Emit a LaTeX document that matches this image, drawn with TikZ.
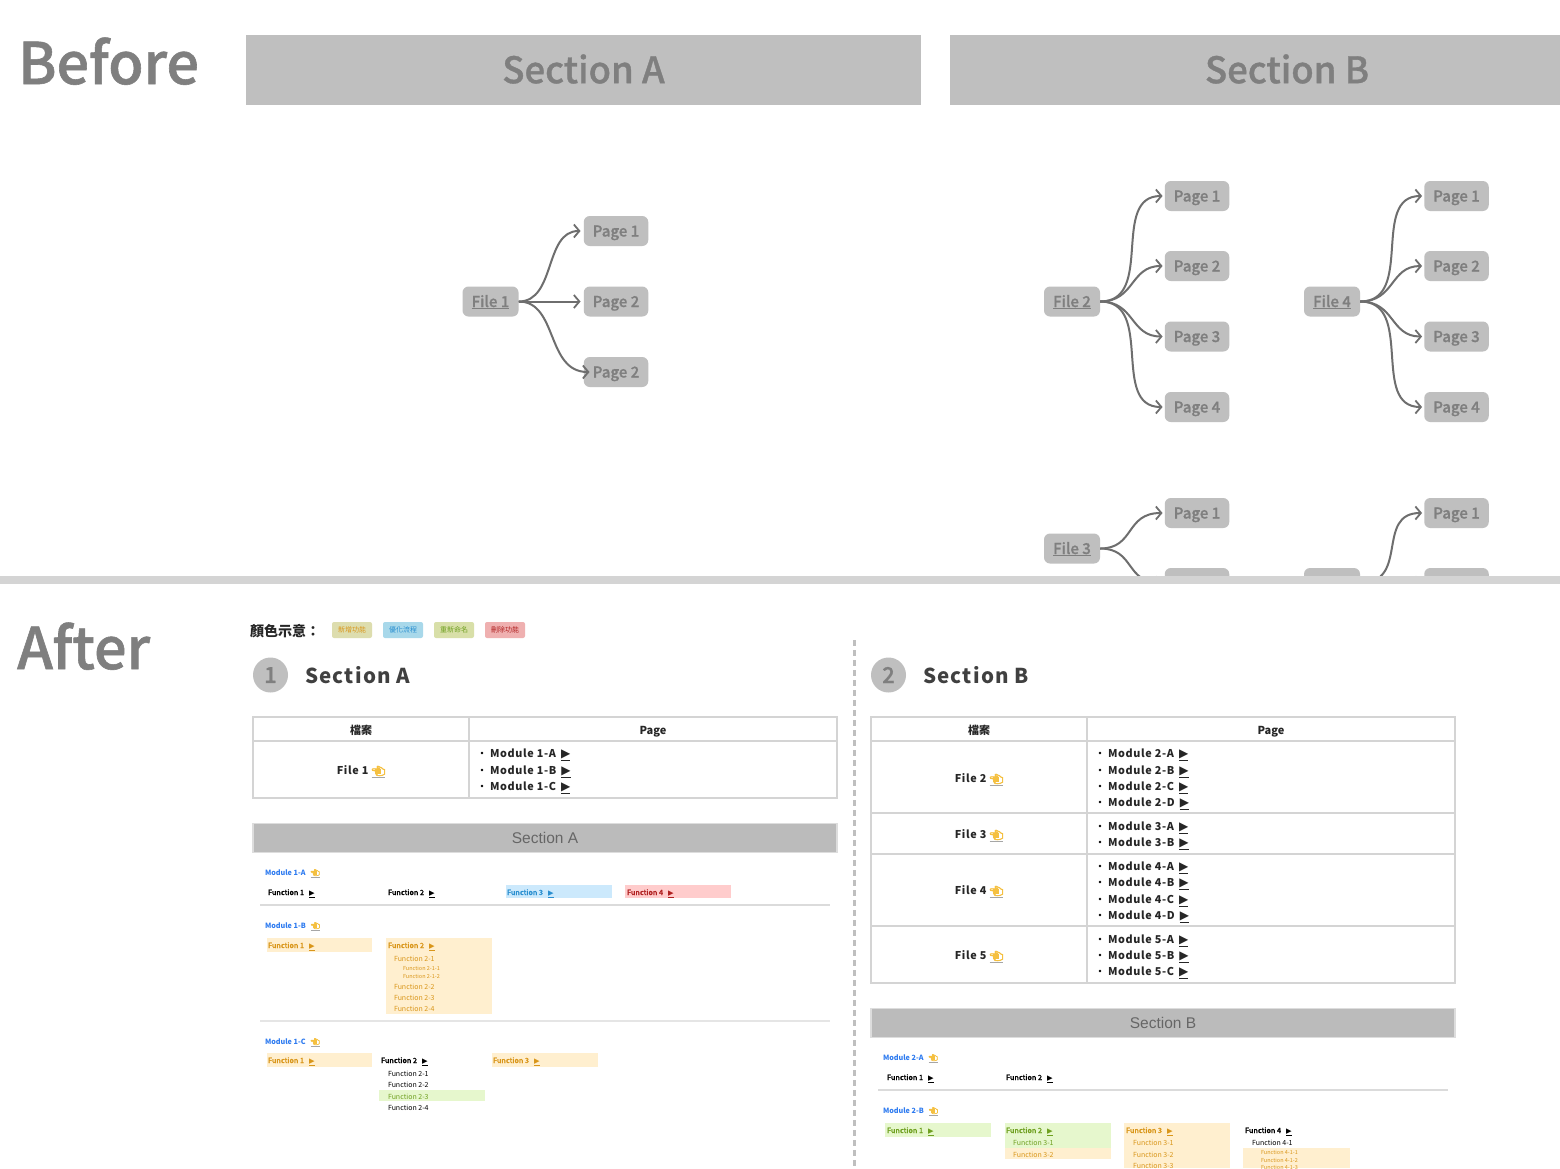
\documentclass[tikz,border=0pt]{standalone}
\usepackage{fontspec}
\usetikzlibrary{arrows.meta}
\setmainfont{Noto Sans CJK TC}
\newfontfamily\med[FakeBold=1]{Noto Sans CJK TC Medium}
\newfontfamily\spaced[LetterSpace=6]{Noto Sans CJK TC}
\newfontfamily\dejav{DejaVu Sans}
\newfontfamily\emo[FakeBold=6]{Noto Emoji}
\newfontfamily\lib{Liberation Sans}
\definecolor{bandgrey}{HTML}{BFBFBF}
\definecolor{inkgrey}{HTML}{7F7F7F}
\definecolor{wire}{HTML}{6E6E6E}
\definecolor{rulegrey}{HTML}{D4D4D4}
\definecolor{linkblue}{HTML}{2E7BF0}
\definecolor{hand}{HTML}{F5C040}
\definecolor{orangebg}{HTML}{FFEFCF}
\definecolor{orangetx}{HTML}{D9961A}
\definecolor{greenbg}{HTML}{E6F7CD}
\definecolor{greentx}{HTML}{6FA020}
\definecolor{bluebg}{HTML}{CCE9FC}
\definecolor{bluetx}{HTML}{2A8FD0}
\definecolor{redbg}{HTML}{FFCCCC}
\definecolor{redtx}{HTML}{B02020}
\definecolor{sbandfill}{HTML}{BBBBBB}
\definecolor{sbandline}{HTML}{DDDDDD}
\newcommand{\fsz}[1]{\fontsize{#1}{#1}\selectfont}
\newcommand{\Hd}{\textcolor{black!35}{\underline{\textcolor{hand}{\rlap{\hspace{.35em}\raisebox{.02em}{\rule{.55em}{.55em}}}\emo\char"1F448}}}}
\newcommand{\Ar}{\underline{{\dejav\char"25B6}}}
\newcommand{\Fa}[4][black]{\node[txt,fn,text=#1] (f-#2-#3) at (#2,#3) {#4\hspace{5pt}\Ar};}
\newcommand{\Fb}[4][black]{\node[txt,font=\fsz{7},yshift=1.2pt,text=#1] (f-#2-#3) at (#2,#3) {#4};}
\newcommand{\Fc}[4][black]{\node[txt,yshift=1pt,text=#1,font=\fsz{5.5}] (f-#2-#3) at (#2,#3) {#4};}
\newcommand{\Md}[3]{\node[txt,mods] (m-#1-#2) at (#1,#2) {#3\hspace{5pt}{\fsz{12}\Ar}};}
\newcommand{\Mh}[3]{\node[txt,font=\fsz{7.2}\bfseries,text=linkblue] (h-#1-#2) at (#1,#2) {#3\hspace{5pt}\Hd};}
\newcommand{\Bul}[2]{\fill[black] (#1,#2) circle (1.3);}
\newcommand{\Lb}[1]{\raisebox{-5.5pt}[0pt][0pt]{#1}}
\tikzset{
  txt/.style={anchor=west,inner sep=0pt,outer sep=0pt,yshift=-1.6pt},
  fn/.style={font=\med\fsz{7.2}},
  mods/.style={font=\spaced\fsz{10.8}\bfseries,text=black!85},
  filet/.style={anchor=center,inner sep=0pt,yshift=-1.8pt,font=\spaced\fsz{10.8}\bfseries,text=black!85},
  headt/.style={anchor=center,inner sep=0pt,font=\fsz{11}\bfseries,text=black!85},
  filebox/.style={draw=none,fill=bandgrey,rounded corners=6,minimum width=56,minimum height=30,inner sep=0pt,text=inkgrey,font=\med\fsz{15}},
  pagebox/.style={draw=none,fill=bandgrey,rounded corners=6,minimum width=64.5,minimum height=30,inner sep=0pt,text=inkgrey,font=\med\fsz{15}},
  conn/.style={draw=wire,line width=2,-{Straight Barb[length=5.5,width=13,line width=1.8]}},
  tline/.style={draw=rulegrey,line width=2},
  sepl/.style={draw=black!14,line width=1.5},
  chip/.style={rounded corners=2,minimum width=40,minimum height=16,inner sep=0pt,font=\fsz{7}},
  sband/.style={fill=sbandfill,draw=sbandline,line width=1.5,minimum width=584,minimum height=29,inner sep=0pt,text=black!60,font=\lib\fsz{15.5}},
  bigt/.style={anchor=west,inner sep=0pt,yshift=1.8pt,text=inkgrey,font=\med\fsz{57.5}},
  sect/.style={text=inkgrey,inner sep=0pt,yshift=1pt,font=\med\fsz{36.5}},
  numc/.style={circle,fill=bandgrey,minimum size=35,inner sep=0pt,text=inkgrey,font=\med\fsz{22}},
  hsec/.style={anchor=west,inner sep=0pt,font=\spaced\fsz{20.5}\bfseries,text=black!75}
}
\begin{document}
\begin{tikzpicture}[x=1pt,y=-1pt]
\clip (0,0) rectangle (1560,1168);
\fill[white] (0,0) rectangle (1560,1168);

% ---------- Before ----------
\begin{scope}
\clip (0,0) rectangle (1560,577);
\node[bigt] (before) at (18,63) {Before};
\node[fill=bandgrey,minimum width=675,minimum height=70,inner sep=0pt] (sa) at (583.5,70) {};
\node[sect] (sat) at (583.5,70) {Section A};
\node[fill=bandgrey,minimum width=675,minimum height=70,inner sep=0pt,anchor=west] (sb) at (950,70) {};
\node[sect] (sbt) at (1287,70) {Section B};

\node[filebox] (f1) at (490.5,301.5) {\Lb{\underline{File 1}}};
\node[pagebox] (a1) at (616,231) {\Lb{Page 1}};
\node[pagebox] (a2) at (616,301.5) {\Lb{Page 2}};
\node[pagebox] (a3) at (616,372) {\Lb{Page 2}};
\draw[conn] (f1.east) .. controls (556,301.5) and (544,231) .. ([xshift=-3]a1.west);
\draw[conn] (f1.east) -- ([xshift=-3]a2.west);
\draw[conn] (f1.east) .. controls (558,301.5) and (546,372) .. ([xshift=6]a3.west);

\node[filebox] (f2) at (1072,301.5) {\Lb{\underline{File 2}}};
\node[pagebox] (b1) at (1197,196) {\Lb{Page 1}};
\node[pagebox] (b2) at (1197,266) {\Lb{Page 2}};
\node[pagebox] (b3) at (1197,336.5) {\Lb{Page 3}};
\node[pagebox] (b4) at (1197,407) {\Lb{Page 4}};
\draw[conn] (f2.east) .. controls (1155,301.5) and (1110,196) .. ([xshift=-2]b1.west);
\draw[conn] (f2.east) .. controls (1135,301.5) and (1130,266) .. ([xshift=-2]b2.west);
\draw[conn] (f2.east) .. controls (1135,301.5) and (1130,336.5) .. ([xshift=-2]b3.west);
\draw[conn] (f2.east) .. controls (1155,301.5) and (1110,407) .. ([xshift=-2]b4.west);

\node[filebox] (f4) at (1332,301.5) {\Lb{\underline{File 4}}};
\node[pagebox] (c1) at (1456.5,196) {\Lb{Page 1}};
\node[pagebox] (c2) at (1456.5,266) {\Lb{Page 2}};
\node[pagebox] (c3) at (1456.5,336.5) {\Lb{Page 3}};
\node[pagebox] (c4) at (1456.5,407) {\Lb{Page 4}};
\draw[conn] (f4.east) .. controls (1415,301.5) and (1370,196) .. ([xshift=-2]c1.west);
\draw[conn] (f4.east) .. controls (1395,301.5) and (1390,266) .. ([xshift=-2]c2.west);
\draw[conn] (f4.east) .. controls (1395,301.5) and (1390,336.5) .. ([xshift=-2]c3.west);
\draw[conn] (f4.east) .. controls (1415,301.5) and (1370,407) .. ([xshift=-2]c4.west);

\node[filebox] (f3) at (1072,548.5) {\Lb{\underline{File 3}}};
\node[pagebox] (d1) at (1197,513) {\Lb{Page 1}};
\node[pagebox] (d2) at (1197,583) {};
\draw[conn] (f3.east) .. controls (1135,548.5) and (1125,513) .. ([xshift=-2]d1.west);
\draw[conn] (f3.east) .. controls (1135,548.5) and (1125,583) .. ([xshift=-2]d2.west);

\node[filebox] (f5) at (1332,583) {};
\node[pagebox] (e1) at (1456.5,513) {\Lb{Page 1}};
\node[pagebox] (e2) at (1456.5,583) {};
\draw[conn] (f5.east) .. controls (1410,583) and (1375,513) .. ([xshift=-2]e1.west);
\draw[conn] (f5.east) -- ([xshift=-2]e2.west);
\end{scope}
\fill[black!17] (0,576) rectangle (1560,584);

% ---------- After ----------
\node[bigt] (after) at (17,648) {After};
\node[txt,font=\fsz{14}\bfseries,text=black!85] (legend) at (250,630) {顏色示意：};
\definecolor{chipa}{HTML}{DDDDAE}\definecolor{chipb}{HTML}{A8D8EA}
\definecolor{chipc}{HTML}{D8DFA8}\definecolor{chipd}{HTML}{EFB0B0}
\node[chip,fill=chipa,text=orangetx] (c-new) at (352,630) {新增功能};
\node[chip,fill=chipb,text=bluetx] (c-opt) at (403,630) {優化流程};
\node[chip,fill=chipc,text=greentx] (c-ren) at (454,630) {重新命名};
\node[chip,fill=chipd,text=redtx] (c-del) at (505,630) {刪除功能};

\draw[draw=bandgrey,line width=3,dash pattern=on 6 off 4] (854,640) -- (854,1168);

\node[numc] (n1) at (270.5,675) {1};
\node[hsec] (h1) at (305,675) {Section A};
\node[numc] (n2) at (888.5,675) {2};
\node[hsec] (h2) at (923,675) {Section B};

% table A
\draw[tline] (253,717) rectangle (837,798);
\draw[tline] (469,717) -- (469,798);
\draw[tline] (253,741) -- (837,741);
\node[headt] (ta1) at (361,730) {檔案};
\node[headt,yshift=-1.8pt] (ta2) at (653,730) {Page};
\node[filet] (tf1) at (361,770) {File 1 \Hd};
\Bul{482}{753}\Md{490}{753}{Module 1-A}
\Bul{482}{770}\Md{490}{770}{Module 1-B}
\Bul{482}{786}\Md{490}{786}{Module 1-C}

% band A
\node[sband] (ba) at (545,838) {Section A};

\Mh{265}{872}{Module 1-A}
\Fa{268}{892}{Function 1}
\Fa{388}{892}{Function 2}
\fill[bluebg] (506,885) rectangle (612,898);
\Fa[bluetx]{507}{892}{Function 3}
\fill[redbg] (625,885) rectangle (731,898);
\Fa[redtx]{627}{892}{Function 4}
\draw[sepl] (260,905) -- (830,905);

\Mh{265}{925}{Module 1-B}
\fill[orangebg] (267,938) rectangle (372,952);
\Fa[orangetx]{268}{945}{Function 1}
\fill[orangebg] (386,938) rectangle (492,1014);
\Fa[orangetx]{388}{945}{Function 2}
\Fb[orangetx]{394}{958}{Function 2-1}
\Fc[orangetx]{403}{968}{Function 2-1-1}
\Fc[orangetx]{403}{976}{Function 2-1-2}
\Fb[orangetx]{394}{986}{Function 2-2}
\Fb[orangetx]{394}{997}{Function 2-3}
\Fb[orangetx]{394}{1008}{Function 2-4}
\draw[draw=black!10,line width=2] (260,1021) -- (830,1021);

\Mh{265}{1041}{Module 1-C}
\fill[orangebg] (267,1053) rectangle (372,1067);
\Fa[orangetx]{268}{1060}{Function 1}
\Fa{381}{1060}{Function 2}
\Fb{388}{1073}{Function 2-1}
\Fb{388}{1084}{Function 2-2}
\fill[greenbg] (379,1090) rectangle (485,1101);
\Fb[greentx]{388}{1096}{Function 2-3}
\Fb{388}{1107}{Function 2-4}
\fill[orangebg] (492,1053) rectangle (598,1067);
\Fa[orangetx]{493}{1060}{Function 3}

% table B
\draw[tline] (871,717) rectangle (1455,983);
\draw[tline] (1087,717) -- (1087,983);
\draw[tline] (871,741) -- (1455,741);
\draw[tline] (871,813) -- (1455,813);
\draw[tline] (871,854) -- (1455,854);
\draw[tline] (871,926) -- (1455,926);
\node[headt] (tb1) at (979,730) {檔案};
\node[headt,yshift=-1.8pt] (tb2) at (1271,730) {Page};
\node[filet] (tf2) at (979,778) {File 2 \Hd};
\node[filet] (tf3) at (979,834) {File 3 \Hd};
\node[filet] (tf4) at (979,890) {File 4 \Hd};
\node[filet] (tf5) at (979,955) {File 5 \Hd};
\foreach \yy/\lab in {753/2-A,770/2-B,786/2-C,802/2-D,826/3-A,842/3-B,866/4-A,882/4-B,899/4-C,915/4-D,939/5-A,955/5-B,971/5-C}{
  \Bul{1100}{\yy}\Md{1108}{\yy}{Module \lab}
}

% band B
\node[sband] (bb) at (1163,1023) {Section B};

\Mh{883}{1057}{Module 2-A}
\Fa{887}{1077}{Function 1}
\Fa{1006}{1077}{Function 2}
\draw[sepl] (878,1090) -- (1448,1090);

\Mh{883}{1110}{Module 2-B}
\fill[greenbg] (885,1123) rectangle (991,1137);
\Fa[greentx]{887}{1130}{Function 1}
\fill[greenbg] (1005,1123) rectangle (1111,1148);
\fill[orangebg] (1005,1148) rectangle (1111,1159);
\Fa[greentx]{1006}{1130}{Function 2}
\Fb[greentx]{1013}{1142}{Function 3-1}
\Fb[orangetx]{1013}{1154}{Function 3-2}
\fill[orangebg] (1124,1123) rectangle (1230,1168);
\Fa[orangetx]{1126}{1130}{Function 3}
\Fb[orangetx]{1133}{1142}{Function 3-1}
\Fb[orangetx]{1133}{1154}{Function 3-2}
\Fb[orangetx]{1133}{1165}{Function 3-3}
\Fa{1245}{1130}{Function 4}
\Fb{1252}{1142}{Function 4-1}
\fill[orangebg] (1243,1148) rectangle (1350,1168);
\Fc[orangetx]{1261}{1152}{Function 4-1-1}
\Fc[orangetx]{1261}{1160}{Function 4-1-2}
\Fc[orangetx]{1261}{1167}{Function 4-1-3}
\end{tikzpicture}
\end{document}
